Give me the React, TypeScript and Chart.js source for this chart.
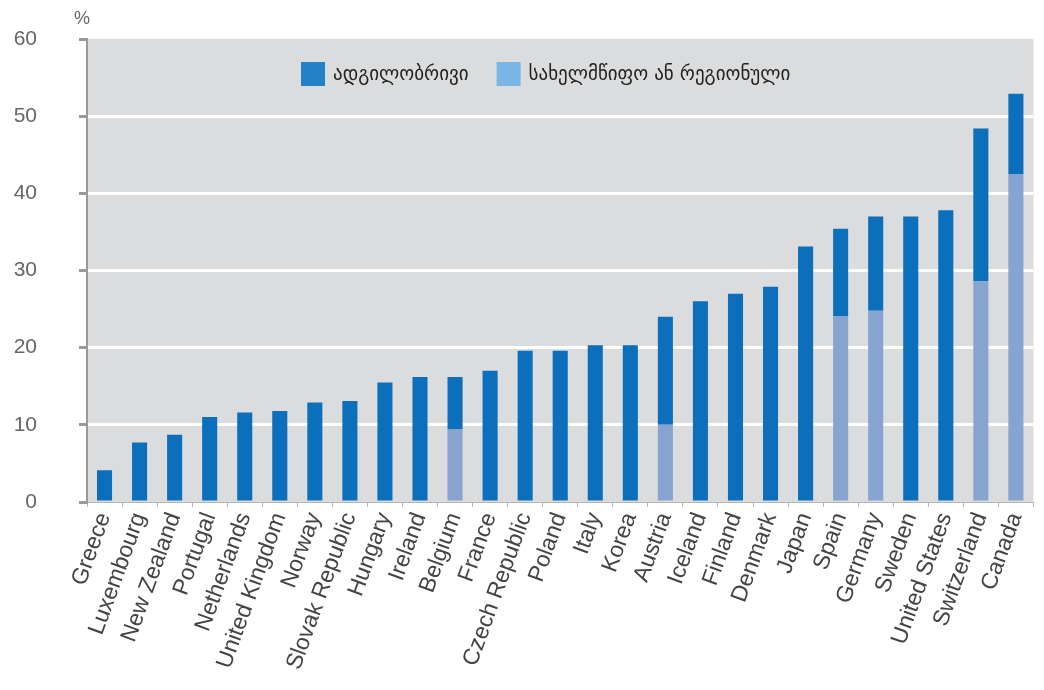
import { useEffect, useRef } from "react";
import { Chart, registerables } from "chart.js";

Chart.register(...registerables);

// Countries, ordered by total share
const countries = [
  "Greece", "Luxembourg", "New Zealand", "Portugal", "Netherlands", "United Kingdom",
  "Norway", "Slovak Republic", "Hungary", "Ireland", "Belgium", "France",
  "Czech Republic", "Poland", "Italy", "Korea", "Austria", "Iceland", "Finland",
  "Denmark", "Japan", "Spain", "Germany", "Sweden", "United States", "Switzerland", "Canada",
];

// Local government share (%)
const localShare = [
  4.1, 7.7, 8.7, 11.0, 11.6, 11.8,
  12.9, 13.1, 15.5, 16.2, 6.8, 17.0,
  19.6, 19.6, 20.3, 20.3, 14.0, 26.0, 27.0,
  27.9, 33.1, 11.3, 12.2, 37.0, 37.8, 19.8, 10.4,
];

// State or regional government share (%)
const regionalShare = [
  0, 0, 0, 0, 0, 0,
  0, 0, 0, 0, 9.4, 0,
  0, 0, 0, 0, 10.0, 0, 0,
  0, 0, 24.1, 24.8, 0, 0, 28.6, 42.5,
];

const seriesLabels = ["ადგილობრივი", "სახელმწიფო ან რეგიონული"];
const yMin = 0;
const yMax = 60;
const yStep = 10;
const unitLabel = "%";

const localColor = "#0b6fbc";
const regionalColor = "#87a3d0";
const localLegendColor = "#2381c8";
const regionalLegendColor = "#79b6e5";

const plotDecor = {
  id: "plotDecor",
  beforeDraw(chart: any) {
    const { ctx, chartArea: a } = chart;
    ctx.save();
    ctx.fillStyle = "#dbdcdd";
    ctx.fillRect(a.left, a.top, a.right - a.left, a.bottom - a.top);
    ctx.restore();
  },
  afterDraw(chart: any) {
    const { ctx, chartArea: a } = chart;
    ctx.save();
    // unit label above the value axis
    ctx.fillStyle = "#666";
    ctx.font = "18px 'Liberation Sans', Arial, sans-serif";
    ctx.textAlign = "left";
    ctx.textBaseline = "alphabetic";
    ctx.fillText(unitLabel, a.left - 13, a.top - 15);

    // legend inside the plot area
    const entries = [
      { text: seriesLabels[0], color: localLegendColor },
      { text: seriesLabels[1], color: regionalLegendColor },
    ];
    ctx.font = "19px 'DejaVu Sans', sans-serif";
    ctx.textBaseline = "middle";
    const box = 24;
    let x = a.left + 214;
    const y = a.top + 23;
    entries.forEach((e) => {
      ctx.fillStyle = e.color;
      ctx.fillRect(x, y, box, box);
      ctx.fillStyle = "#222";
      ctx.fillText(e.text, x + box + 8, y + box / 2 + 1);
      x += box + 8 + ctx.measureText(e.text).width + 28;
    });
    ctx.restore();
  },
};

export default function App() {
  const canvasRef = useRef<HTMLCanvasElement | null>(null);

  useEffect(() => {
    if (!canvasRef.current) return;
    Chart.defaults.font.family = "'Liberation Sans', Arial, sans-serif";
    const chart = new Chart(canvasRef.current, {
      type: "bar",
      data: {
        labels: countries,
        datasets: [
          {
            label: seriesLabels[1],
            data: regionalShare,
            backgroundColor: regionalColor,
            barPercentage: 0.43,
            categoryPercentage: 1,
          },
          {
            label: seriesLabels[0],
            data: localShare,
            backgroundColor: localColor,
            barPercentage: 0.43,
            categoryPercentage: 1,
          },
        ],
      },
      options: {
        responsive: true,
        maintainAspectRatio: false,
        animation: false,
        layout: { padding: { top: 39, right: 9, left: 0, bottom: 0 } },
        plugins: {
          legend: { display: false },
          tooltip: { enabled: false },
        },
        scales: {
          x: {
            stacked: true,
            offset: true,
            grid: {
              display: true,
              drawOnChartArea: false,
              drawTicks: true,
              tickLength: 5,
              tickColor: "#b5b5b5",
              offset: true,
            },
            border: { display: true, color: "#b5b5b5", width: 1 },
            ticks: {
              color: "#444",
              font: { size: 23 },
              minRotation: 70,
              maxRotation: 70,
              autoSkip: false,
              padding: 2,
            },
            afterFit(scale: any) {
              scale.height = 188;
            },
          },
          y: {
            stacked: true,
            min: yMin,
            max: yMax,
            ticks: {
              stepSize: yStep,
              color: "#666",
              font: { size: 21 },
              padding: 42,
            },
            grid: {
              color: (c: any) =>
                c.tick && (c.tick.value === yMin || c.tick.value === yMax) ? "rgba(0,0,0,0)" : "#ffffff",
              lineWidth: 3,
              tickColor: "#999",
              tickLength: 8,
              drawTicks: true,
            },
            border: { display: true, color: "#999", width: 2 },
            afterFit(scale: any) {
              scale.width = 87;
              scale.paddingTop = 0;
              scale.paddingBottom = 0;
            },
          },
        },
      },
      plugins: [plotDecor],
    });
    return () => chart.destroy();
  }, []);

  return (
    <div style={{ position: "absolute", left: 0, top: 0, width: 1044, height: 690, background: "#fff" }}>
      <canvas ref={canvasRef} />
    </div>
  );
}
